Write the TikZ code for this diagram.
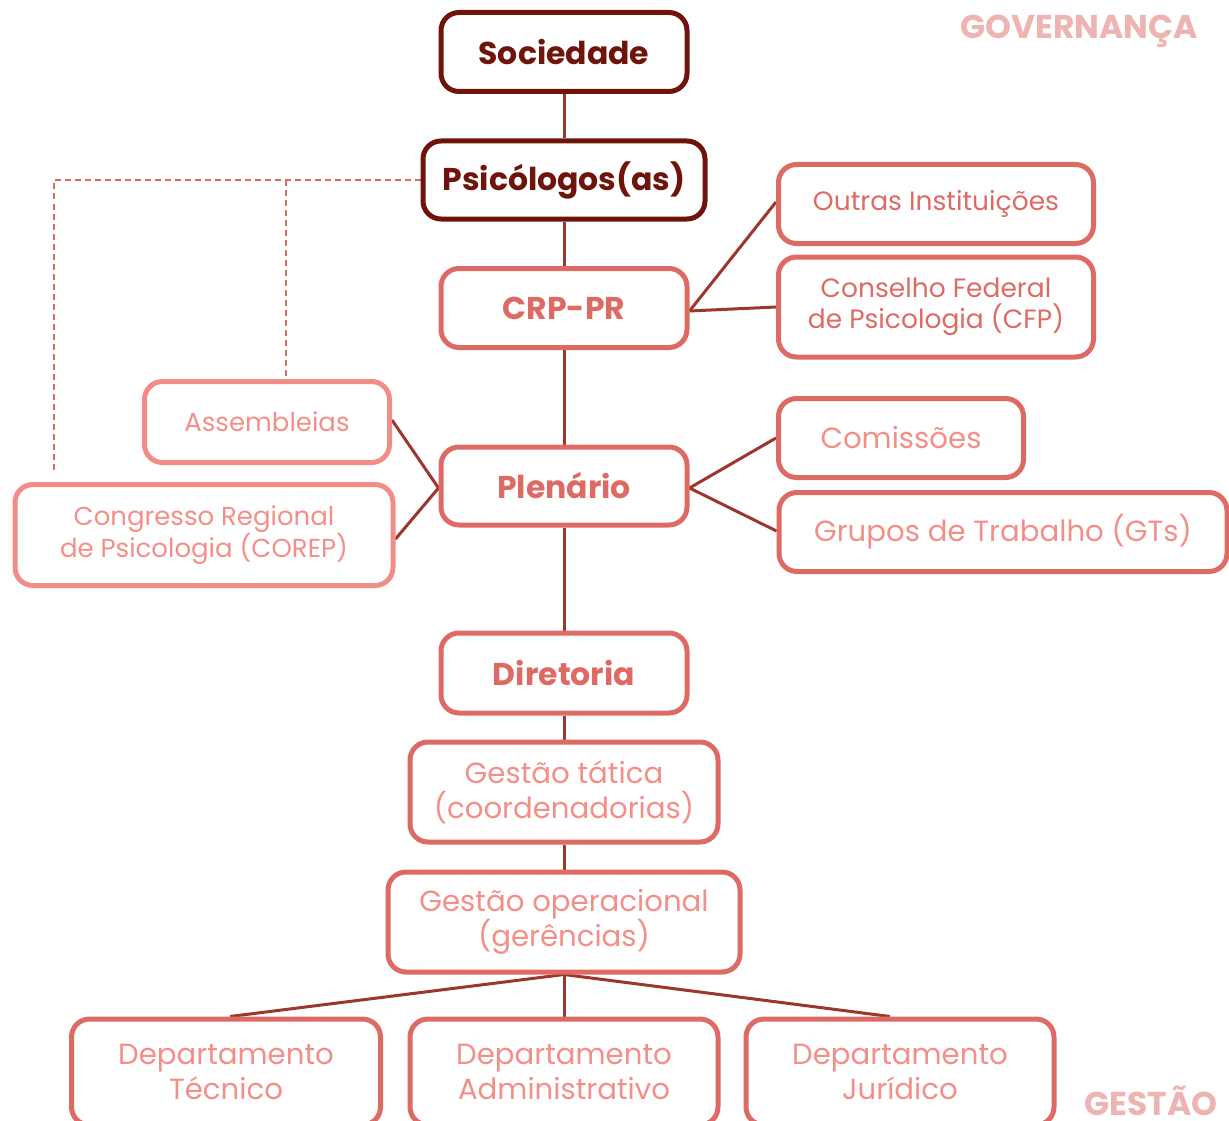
\documentclass[tikz,border=0pt]{standalone}
\usepackage{fontspec}
\setmainfont{Poppins}
\usetikzlibrary{backgrounds}
\definecolor{darkred}{RGB}{110,20,10}
\definecolor{boxred}{RGB}{222,107,99}
\definecolor{pinktext}{RGB}{243,143,137}
\definecolor{pinkborder}{RGB}{242,140,135}
\definecolor{linkred}{RGB}{155,55,45}
\definecolor{labelpink}{RGB}{237,180,178}
\tikzset{
  box/.style={draw=boxred, line width=5pt, rounded corners=18pt, fill=white, align=center, inner sep=0pt},
  topbox/.style={box, draw=darkred, text=darkred, font=\fontsize{31.5}{36}\selectfont\bfseries},
  midbold/.style={box, text=boxred, font=\fontsize{31.5}{36}\selectfont\bfseries},
  midreg/.style={box, text=boxred, font=\fontsize{26.5}{31}\selectfont},
  pinkbox/.style={box, text=pinktext, font=\fontsize{29.2}{35}\selectfont},
  lightbox/.style={box, draw=pinkborder, text=pinktext, font=\fontsize{26}{31}\selectfont},
  link/.style={draw=linkred, line width=3pt},
  dashlink/.style={draw=boxred, line width=2pt, dash pattern=on 6pt off 4pt},
  sidelabel/.style={text=labelpink, font=\fontsize{33}{36}\selectfont\bfseries, inner sep=0pt, anchor=base}
}
\begin{document}
\begin{tikzpicture}[x=1pt,y=-1pt]
\useasboundingbox (0,0) rectangle (1229,1121);
\node[topbox, minimum width=246pt, minimum height=79pt] (soc) at (564,52) {Sociedade};
\node[topbox, minimum width=282pt, minimum height=78pt] (psi) at (564,180) {Psicólogos(as)};
\node[midbold, minimum width=246pt, minimum height=79pt] (crp) at (564,308) {CRP-PR};
\node[midreg, minimum width=315pt, minimum height=79pt] (out) at (936,204) {Outras Instituições};
\node[midreg, minimum width=315pt, minimum height=100pt] (cfp) at (936,307) {Conselho Federal\\de Psicologia (CFP)};
\node[lightbox, minimum width=245pt, minimum height=81pt] (ass) at (267,422) {Assembleias};
\node[lightbox, minimum width=378pt, minimum height=101pt] (cor) at (204,535) {Congresso Regional\\de Psicologia (COREP)};
\node[midbold, minimum width=246pt, minimum height=78pt] (ple) at (564,486) {Plenário};
\node[pinkbox, minimum width=245pt, minimum height=79pt] (com) at (901,438) {Comissões};
\node[pinkbox, minimum width=448pt, minimum height=79pt] (gts) at (1003,532) {Grupos de Trabalho (GTs)};
\node[midbold, minimum width=246pt, minimum height=80pt] (dir) at (564,673) {Diretoria};
\node[pinkbox, minimum width=308pt, minimum height=100pt] (tat) at (564,792) {Gestão tática\\(coordenadorias)};
\node[pinkbox, minimum width=352pt, minimum height=100pt] (ope) at (564,922) {Gestão operacional\\(gerências)};
\node[pinkbox, minimum width=309pt, minimum height=106pt] (tec) at (226,1072) {Departamento\\Técnico};
\node[pinkbox, minimum width=308pt, minimum height=106pt] (adm) at (564,1072) {Departamento\\Administrativo};
\node[pinkbox, minimum width=308pt, minimum height=106pt] (jur) at (900,1072) {Departamento\\Jurídico};
\node[sidelabel] (gov) at (1079,39) {GOVERNANÇA};
\node[sidelabel] (ges) at (1151,1115) {GESTÃO};
\coordinate (dA) at (54,180);
\coordinate (dB) at (286,180);
\coordinate (dC) at (54,470);
\begin{scope}[on background layer]
\draw[link] (soc.south) -- (psi.north);
\draw[link] (psi.south) -- (crp.north);
\draw[link] (crp.south) -- (ple.north);
\draw[link] (ple.south) -- (dir.north);
\draw[link] (dir.south) -- (tat.north);
\draw[link] (tat.south) -- (ope.north);
\draw[link] (ope.south) -- (adm.north);
\draw[link] (ope.south) -- ([xshift=4pt]tec.north);
\draw[link] (ope.south) -- ([xshift=-10pt]jur.north);
\draw[link] ([yshift=-3pt]crp.east) -- ([yshift=2pt]out.west);
\draw[link] ([yshift=-3pt]crp.east) -- (cfp.west);
\draw[link] ([yshift=-2pt]ple.east) -- (com.west);
\draw[link] ([yshift=-2pt]ple.east) -- ([yshift=1pt]gts.west);
\draw[link] ([yshift=-2pt]ple.west) -- ([yshift=2pt]ass.east);
\draw[link] ([yshift=-2pt]ple.west) -- ([yshift=-4pt]cor.east);
\draw[dashlink] (psi.west) -- (dA) -- (dC);
\draw[dashlink] (dB) -- (ass.north -| dB);
\end{scope}
\end{tikzpicture}
\end{document}
